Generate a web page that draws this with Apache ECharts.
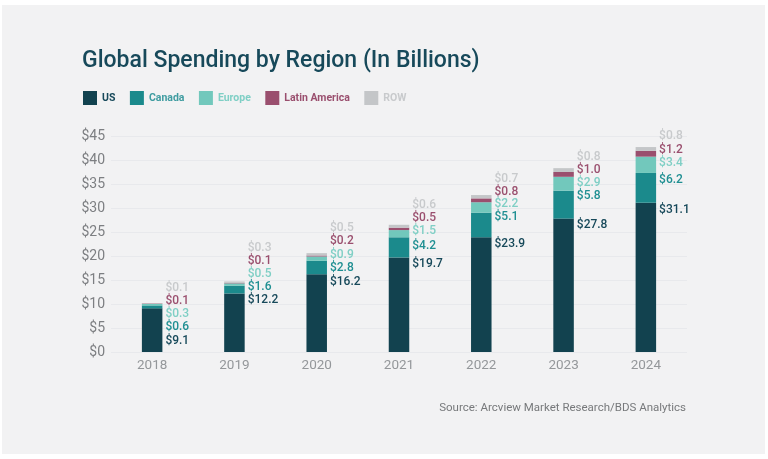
<!DOCTYPE html>
<html>
<head>
<meta charset="utf-8">
<style>
  html, body { margin: 0; padding: 0; background: #fff; }
  #chart { width: 768px; height: 459px; }
</style>
<script src="https://cdn.jsdelivr.net/npm/echarts@6/dist/echarts.min.js"></script>
</head>
<body>
<div id="chart"></div>
<script>
var years = ['2018', '2019', '2020', '2021', '2022', '2023', '2024'];
var us = [9.1, 12.2, 16.2, 19.7, 23.9, 27.8, 31.1];
var canada = [0.6, 1.6, 2.8, 4.2, 5.1, 5.8, 6.2];
var europe = [0.3, 0.5, 0.9, 1.5, 2.2, 2.9, 3.4];
var latinAmerica = [0.1, 0.1, 0.2, 0.5, 0.8, 1.0, 1.2];
var row = [0.1, 0.3, 0.5, 0.6, 0.7, 0.8, 0.8];

// label centre heights, the labels are stacked beside the bars, not on the segments
var usLabelY = [341, 300, 282, 264, 244, 225, 210];
var canadaLabelY = [327, 287, 268, 246, 217, 196, 180];
var europeLabelY = [314, 274, 255, 231, 204, 183, 163];
var latinLabelY = [301, 261, 241, 218, 192, 170, 150];
var rowLabelY = [288, 248, 228, 205, 179, 157, 136];

var font = 'Roboto, sans-serif';

function makeSeries(name, values, color, labelColor, labelY) {
    return {
        name: name,
        type: 'bar',
        stack: 'total',
        data: values,
        barWidth: 20.5,
        itemStyle: { color: color },
        label: {
            show: true,
            position: 'right',
            distance: 3,
            color: labelColor,
            fontFamily: font,
            fontSize: 12,
            fontWeight: 500,
            formatter: function (p) { return '$' + p.value.toFixed(1); }
        },
        labelLayout: function (p) {
            return { y: labelY[p.dataIndex], verticalAlign: 'middle' };
        }
    };
}

var chart = echarts.init(document.getElementById('chart'), null, { renderer: 'canvas' });
chart.setOption({
    animation: false,
    backgroundColor: '#ffffff',
    graphic: [{
        type: 'rect',
        z: -10,
        silent: true,
        shape: { x: 2, y: 5, width: 763, height: 449 },
        style: { fill: '#f2f2f3' }
    }],
    title: [{
        text: 'Global Spending by Region (In Billions)',
        left: 77,
        top: 45,
        textStyle: { color: '#17495a', fontFamily: font, fontSize: 23, fontWeight: 500 }
    }, {
        text: 'Source: Arcview Market Research/BDS Analytics',
        right: 77,
        top: 397,
        textStyle: { color: '#77797b', fontFamily: font, fontSize: 11.5, fontWeight: 'normal' }
    }],
    legend: {
        left: 78,
        top: 86,
        icon: 'rect',
        itemWidth: 14,
        itemHeight: 14,
        itemGap: 14.5,
        selectedMode: false,
        textStyle: { fontFamily: font, fontSize: 10.5, fontWeight: 'bold' },
        data: [
            { name: 'US', textStyle: { color: '#17495a' } },
            { name: 'Canada', textStyle: { color: '#3f9ca0' } },
            { name: 'Europe', textStyle: { color: '#7fcfc5' } },
            { name: 'Latin America', textStyle: { color: '#9a4f6e' } },
            { name: 'ROW', textStyle: { color: '#c8cacc' } }
        ]
    },
    grid: { left: 111, right: 81, top: 136, bottom: 107 },
    xAxis: {
        type: 'category',
        data: years,
        axisLine: { show: false },
        axisTick: { show: false },
        axisLabel: { color: '#94979a', fontFamily: font, fontSize: 13.5, margin: 7 }
    },
    yAxis: {
        type: 'value',
        min: 0,
        max: 45,
        interval: 5,
        axisLine: { show: false },
        axisTick: { show: false },
        splitLine: { lineStyle: { color: '#e8e9ec', width: 1 } },
        axisLabel: {
            color: '#7d7f82',
            fontFamily: font,
            fontSize: 14,
            margin: 6,
            formatter: '${value}'
        }
    },
    series: [
        makeSeries('US', us, '#12424f', '#17495a', usLabelY),
        makeSeries('Canada', canada, '#1b8a8c', '#1f8f92', canadaLabelY),
        makeSeries('Europe', europe, '#72c8bc', '#7fcfc5', europeLabelY),
        makeSeries('Latin America', latinAmerica, '#9a4f6e', '#9a4f6e', latinLabelY),
        makeSeries('ROW', row, '#c4c6c8', '#c8cacc', rowLabelY)
    ]
});
</script>
</body>
</html>
